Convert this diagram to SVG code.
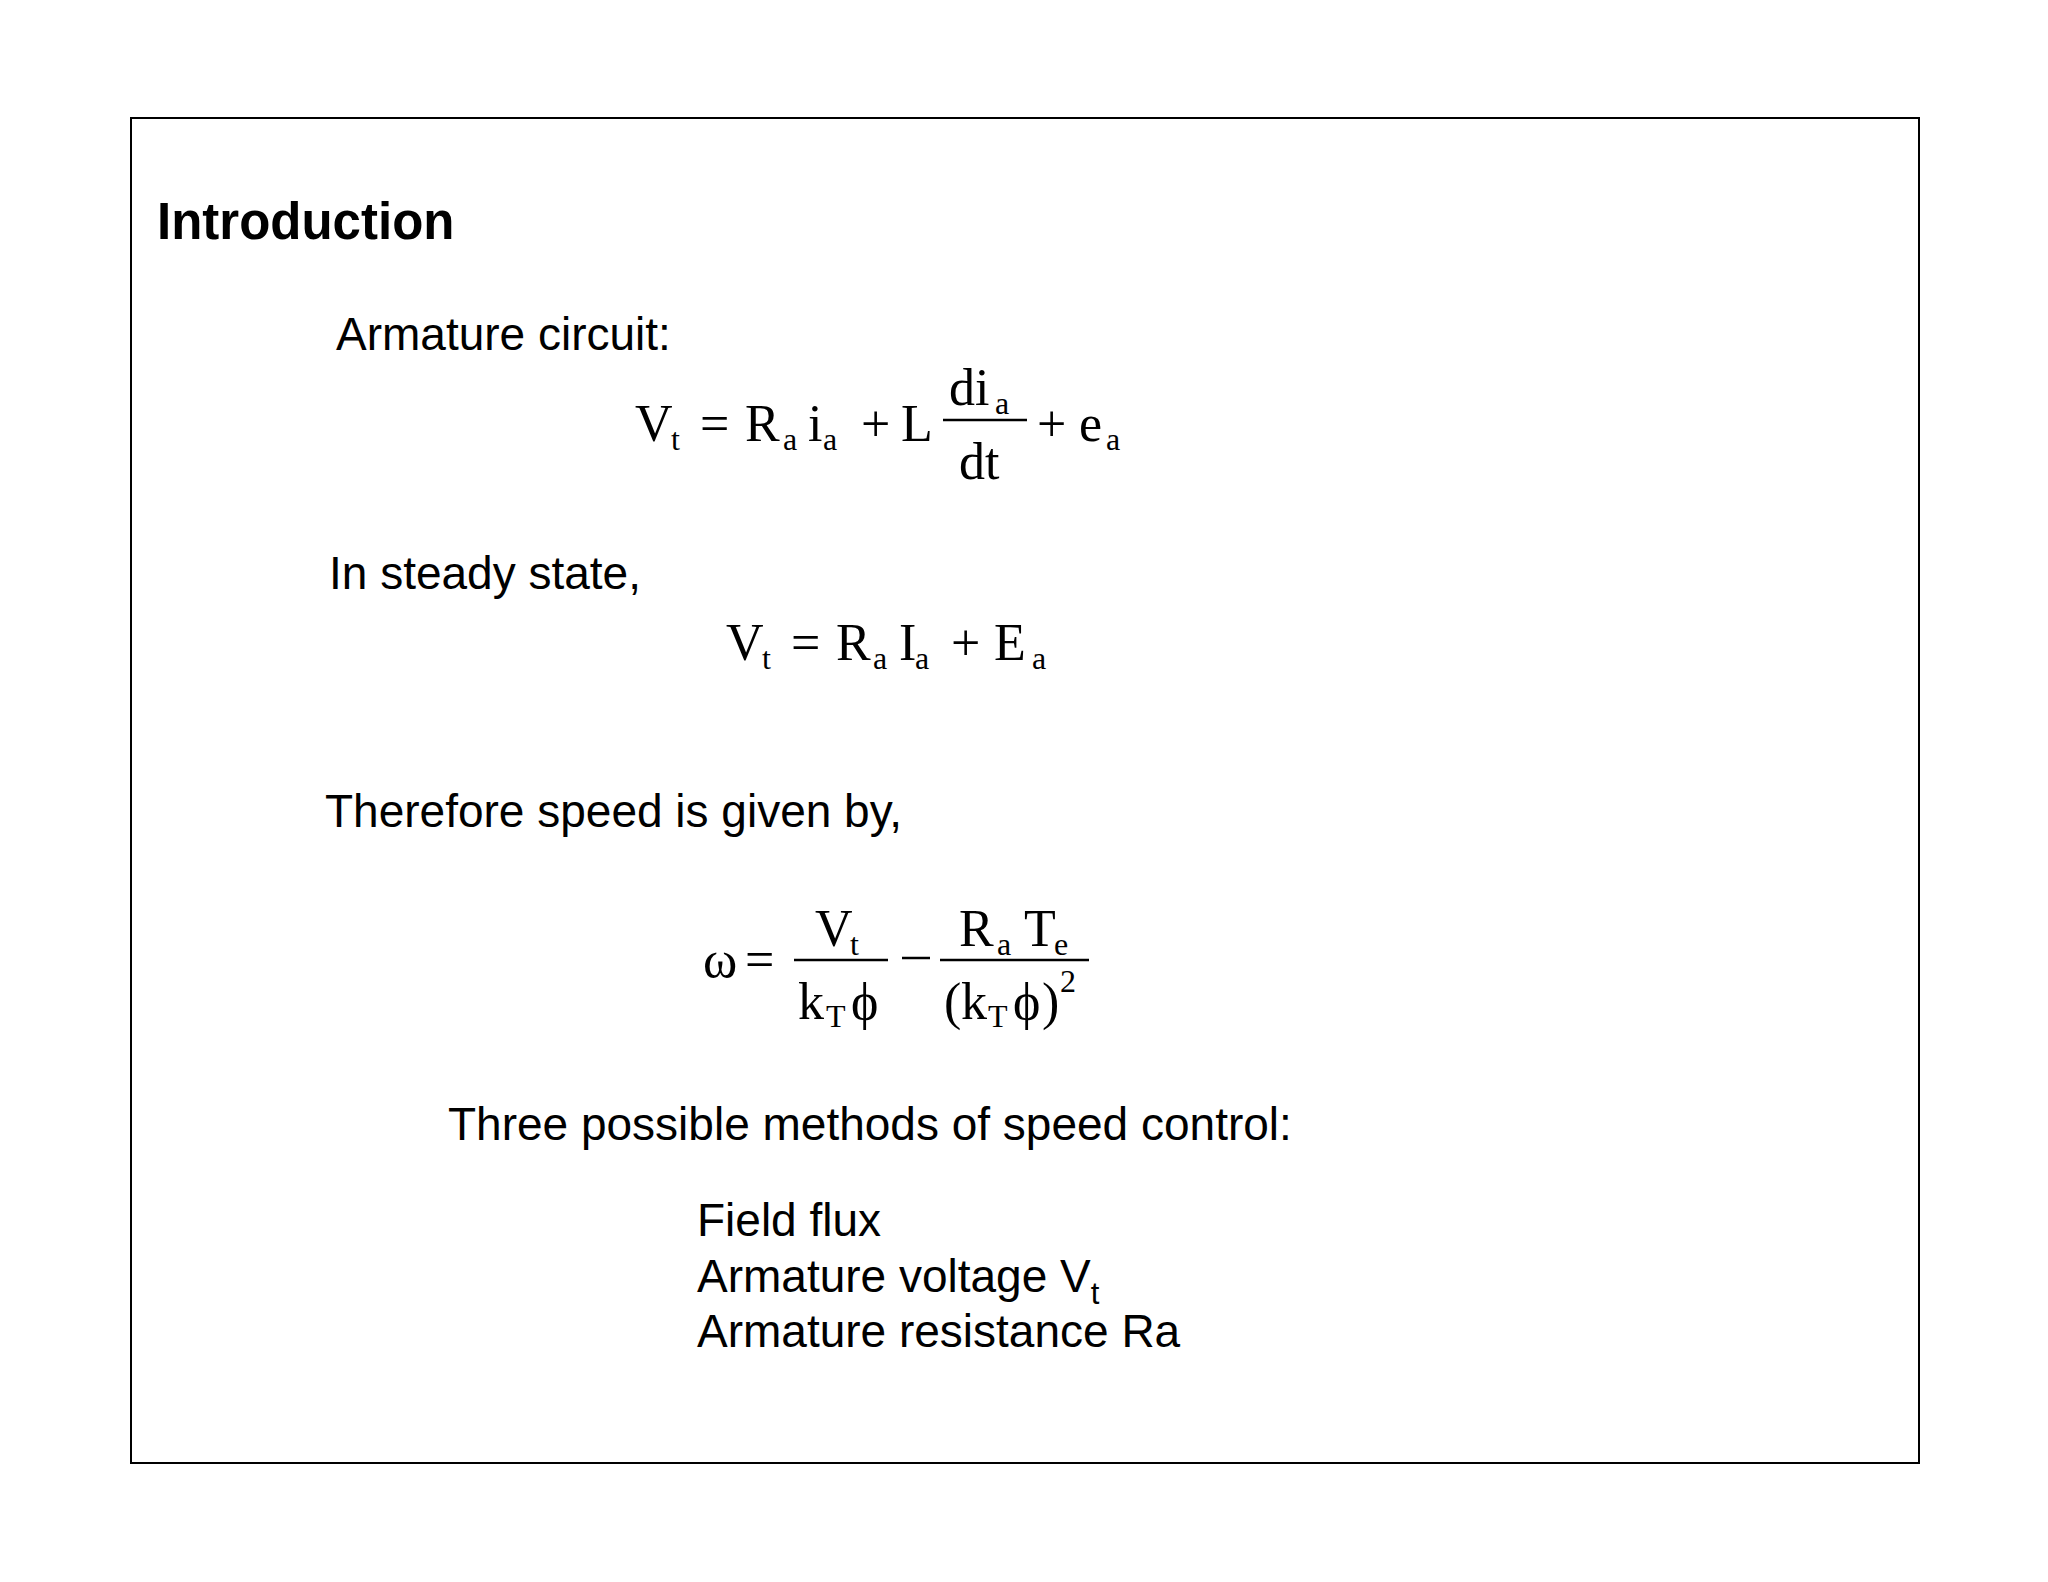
<svg xmlns="http://www.w3.org/2000/svg" width="2048" height="1582" viewBox="0 0 2048 1582">
<style>
.s{font-family:"Liberation Sans",Arial,sans-serif;font-size:46px;fill:#000}
.h{font-family:"Liberation Sans",Arial,sans-serif;font-size:51px;font-weight:bold;fill:#000}
.m{font-family:"Liberation Serif","Times New Roman",serif;font-size:52px;fill:#000}
.b{font-family:"Liberation Serif","Times New Roman",serif;font-size:32px;fill:#000}
.l{stroke:#000;stroke-width:2.5}
</style>
<rect width="2048" height="1582" fill="#fff"/>
<rect x="131" y="118" width="1788" height="1345" fill="none" stroke="#000" stroke-width="2"/>
<g id="title"><text class="h" x="157" y="239">Introduction</text></g>
<g id="text">
<text class="s" x="336" y="350">Armature circuit:</text>
<text class="s" x="329" y="589">In steady state,</text>
<text class="s" x="325" y="827">Therefore speed is given by,</text>
<text class="s" x="448" y="1140">Three possible methods of speed control:</text>
<text class="s" x="697" y="1236">Field flux</text>
<text class="s" x="697" y="1292">Armature voltage V<tspan font-size="31" dy="12">t</tspan></text>
<text class="s" x="697" y="1347">Armature resistance Ra</text>
</g>
<g id="eq1">
<text class="m" x="635" y="441">V</text><text class="b" x="671" y="450">t</text>
<text class="m" x="700" y="441">=</text>
<text class="m" x="745" y="441">R</text><text class="b" x="783" y="450">a</text>
<text class="m" x="808" y="441">i</text><text class="b" x="823" y="450">a</text>
<text class="m" x="861" y="441">+</text>
<text class="m" x="901" y="441">L</text>
<line class="l" x1="943" y1="420" x2="1027" y2="420"/>
<text class="m" x="949" y="405">di</text><text class="b" x="995" y="414">a</text>
<text class="m" x="959" y="479">dt</text>
<text class="m" x="1037" y="441">+</text>
<text class="m" x="1079" y="441">e</text><text class="b" x="1106" y="450">a</text>
</g>
<g id="eq2">
<text class="m" x="726" y="660">V</text><text class="b" x="762" y="669">t</text>
<text class="m" x="791" y="660">=</text>
<text class="m" x="836" y="660">R</text><text class="b" x="873" y="669">a</text>
<text class="m" x="899" y="660">I</text><text class="b" x="915" y="669">a</text>
<text class="m" x="951" y="660">+</text>
<text class="m" x="994" y="660">E</text><text class="b" x="1032" y="669">a</text>
</g>
<g id="eq3">
<text class="m" x="703" y="977">ω</text>
<text class="m" x="745" y="977">=</text>
<line class="l" x1="794" y1="960" x2="888" y2="960"/>
<text class="m" x="815" y="946">V</text><text class="b" x="850" y="955">t</text>
<text class="m" x="798" y="1019">k</text><text class="b" x="826" y="1027">T</text><text class="m" x="851" y="1019">ϕ</text>
<line class="l" x1="902" y1="958" x2="930" y2="958"/>
<line class="l" x1="940" y1="960" x2="1089" y2="960"/>
<text class="m" x="959" y="946">R</text><text class="b" x="997" y="955">a</text>
<text class="m" x="1024" y="946">T</text><text class="b" x="1054" y="955">e</text>
<text class="m" x="944" y="1019">(</text><text class="m" x="961" y="1019">k</text><text class="b" x="988" y="1027">T</text><text class="m" x="1013" y="1019">ϕ</text><text class="m" x="1042" y="1019">)</text><text class="b" x="1060" y="992">2</text>
</g>
</svg>
